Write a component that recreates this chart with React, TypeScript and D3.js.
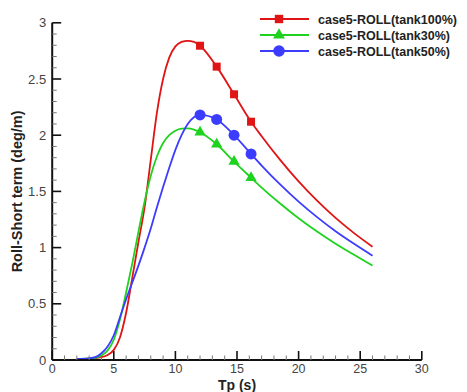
import React from 'react';
import * as d3 from 'd3';

const tpRed = [2, 3, 4, 4.5, 5, 5.5, 6, 6.5, 7, 7.5, 8, 8.5, 9, 9.5, 10, 10.5, 11, 11.5, 12, 13.35, 14.76, 16.14, 17, 18.5, 20, 21.5, 23, 24.5, 26];
const valRed = [0.01, 0.012, 0.025, 0.045, 0.09, 0.2, 0.42, 0.73, 1.05, 1.36, 1.78, 2.2, 2.5, 2.69, 2.79, 2.83, 2.84, 2.83, 2.796, 2.61, 2.364, 2.12, 1.991, 1.781, 1.589, 1.417, 1.264, 1.129, 1.008];

const tpGreen = [2, 3, 3.5, 4, 4.5, 5, 5.5, 6, 6.5, 7, 7.5, 8, 8.5, 9, 9.5, 10, 10.5, 11, 11.5, 12, 13.35, 14.76, 16.14, 17, 18.5, 20, 21.5, 23, 24.5, 26];
const valGreen = [0.01, 0.015, 0.02, 0.04, 0.085, 0.18, 0.36, 0.6, 0.86, 1.14, 1.41, 1.64, 1.81, 1.93, 2.0, 2.04, 2.058, 2.06, 2.05, 2.026, 1.919, 1.765, 1.622, 1.534, 1.392, 1.261, 1.143, 1.035, 0.936, 0.84];

const tpBlue = [2, 3, 3.5, 4, 4.5, 5, 5.5, 6, 6.5, 7, 7.5, 8, 8.5, 9, 9.5, 10, 10.5, 11, 11.5, 12, 13.35, 14.76, 16.14, 17, 18.5, 20, 21.5, 23, 24.5, 26];
const valBlue = [0.01, 0.015, 0.025, 0.06, 0.12, 0.22, 0.38, 0.54, 0.69, 0.84, 1.0, 1.17, 1.36, 1.54, 1.71, 1.87, 2.0, 2.1, 2.16, 2.18, 2.14, 2.0, 1.833, 1.73, 1.562, 1.409, 1.271, 1.146, 1.034, 0.928];

const markerTp = [12, 13.35, 14.76, 16.14];
const markerRed = [2.796, 2.61, 2.364, 2.12];
const markerGreen = [2.026, 1.919, 1.765, 1.622];
const markerBlue = [2.18, 2.14, 2.0, 1.833];

const seriesNames = ['case5-ROLL(tank100%)', 'case5-ROLL(tank30%)', 'case5-ROLL(tank50%)'];
const xTicks = [0, 5, 10, 15, 20, 25, 30];
const yTicks = [0, 0.5, 1, 1.5, 2, 2.5, 3];
const xTitle = 'Tp (s)';
const yTitle = 'Roll-Short term (deg/m)';

const RED = '#e01414';
const GREEN = '#1ed21e';
const BLUE = '#3c3cff';
const FONT = 'Arial, "Liberation Sans", sans-serif';

export default function App() {
  const W = 467, H = 392;
  const x = d3.scaleLinear().domain([0, 30]).range([52.2, 421.8]);
  const y = d3.scaleLinear().domain([0, 3]).range([360, 22.8]);

  const line = d3.line<[number, number]>()
    .x(d => x(d[0]))
    .y(d => y(d[1]))
    .curve(d3.curveMonotoneX);

  const series = [
    { name: seriesNames[0], tp: tpRed, val: valRed, mv: markerRed, color: RED, sym: d3.symbolSquare, size: 64 },
    { name: seriesNames[1], tp: tpGreen, val: valGreen, mv: markerGreen, color: GREEN, sym: d3.symbolTriangle, size: 55 },
    { name: seriesNames[2], tp: tpBlue, val: valBlue, mv: markerBlue, color: BLUE, sym: d3.symbolCircle, size: 95 },
  ];

  const xMinor = d3.range(0, 31, 1).filter(v => v % 5 !== 0);
  const yMinor = d3.range(0, 31, 1).map(v => v / 10).filter((v, i) => i % 5 !== 0);

  const x0 = x(0), y0 = y(0);
  const legendY = [19, 35, 51];

  return (
    <svg width={W} height={H} style={{ position: 'absolute', left: 0, top: 0, background: '#fff' }} fontFamily={FONT}>
      <rect x={0} y={0} width={W} height={H} fill="#fff" />
      {series.map(s => (
        <g key={s.name}>
          <path d={line(s.tp.map((t, i) => [t, s.val[i]] as [number, number])) || ''} fill="none" stroke={s.color} strokeWidth={1.8} />
          {markerTp.map((t, i) => (
            <path key={i} d={d3.symbol().type(s.sym).size(s.size)() || ''} transform={`translate(${x(t)},${y(s.mv[i])})`} fill={s.color} />
          ))}
        </g>
      ))}
      <line x1={x0} x2={x(30)} y1={y0} y2={y0} stroke="#111" strokeWidth={2} />
      <line x1={x0} x2={x0} y1={y0} y2={y(3)} stroke="#111" strokeWidth={2} />
      {xTicks.map(v => (
        <g key={'xt' + v}>
          <line x1={x(v)} x2={x(v)} y1={y0} y2={y0 - 9} stroke="#111" strokeWidth={1.6} />
          <text x={x(v)} y={y0 + 13} textAnchor="middle" fontSize={12.5} fill="#444">{v}</text>
        </g>
      ))}
      {xMinor.map(v => (
        <line key={'xm' + v} x1={x(v)} x2={x(v)} y1={y0} y2={y0 - 4.5} stroke="#777" strokeWidth={1} />
      ))}
      {yTicks.map(v => (
        <g key={'yt' + v}>
          <line x1={x0} x2={x0 + 9} y1={y(v)} y2={y(v)} stroke="#111" strokeWidth={1.6} />
          <text x={x0 - 6} y={y(v) + 4.5} textAnchor="end" fontSize={13} fill="#444">{v}</text>
        </g>
      ))}
      {yMinor.map(v => (
        <line key={'ym' + v} x1={x0} x2={x0 + 4.5} y1={y(v)} y2={y(v)} stroke="#777" strokeWidth={1} />
      ))}
      <text x={x(15)} y={389.5} textAnchor="middle" fontSize={14} fontWeight="bold" fill="#222">{xTitle}</text>
      <text transform={`translate(22,${y(1.5)}) rotate(-90)`} textAnchor="middle" fontSize={14.5} fontWeight="bold" fill="#222">{yTitle}</text>
      {series.map((s, i) => (
        <g key={'lg' + i}>
          <line x1={260} x2={309} y1={legendY[i]} y2={legendY[i]} stroke={s.color} strokeWidth={1.8} />
          <path d={d3.symbol().type(s.sym).size(s.size * 1.1)() || ''} transform={`translate(279,${legendY[i]})`} fill={s.color} />
          <text x={318} y={legendY[i] + 4.5} fontSize={12.5} fontWeight="bold" fill="#222">{s.name}</text>
        </g>
      ))}
    </svg>
  );
}
